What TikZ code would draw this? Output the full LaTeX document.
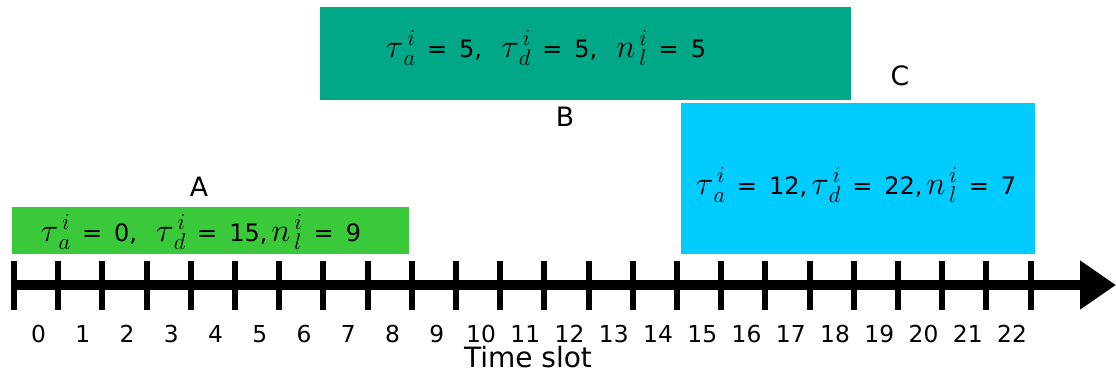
\documentclass[tikz,border=0pt]{standalone}
\usepackage{fontspec}
\setmainfont{DejaVu Sans}
\usetikzlibrary{arrows.meta}

\definecolor{jobA}{RGB}{57,201,58}
\definecolor{jobB}{RGB}{0,168,136}
\definecolor{jobC}{RGB}{0,204,255}

% job parameter with time slot index i
\newcommand{\jobvar}[2]{\scalebox{1.42}{$#1^{\,i}_{\,#2}$}}
\newcommand{\eq}{\hspace{0.45em}=\hspace{0.5em}}

\begin{document}
\begin{tikzpicture}[x=0.75pt,y=-0.75pt]
    \tikzset{job/.style = {shape=rectangle, draw=none, inner sep=0pt}}
    \tikzset{jobtext/.style = {font=\fontsize{18}{21}\selectfont, inner sep=0pt}}
    \tikzset{jobtag/.style = {font=\fontsize{20}{24}\selectfont}}
    \tikzset{slot/.style = {font=\fontsize{17.5}{20}\selectfont, anchor=base}}
    \tikzset{axis/.style = {draw=black, line width=7.5pt, -{Triangle[length=27pt, width=35pt]}}}

    \useasboundingbox (0,0) rectangle (1116,376);

    % jobs
    \node[job, fill=jobA, minimum width=297.75pt, minimum height=35.25pt] (boxA) at (210.5,230.5) {};
    \node[job, fill=jobB, minimum width=398.25pt, minimum height=69.75pt] (boxB) at (585.5,53.5) {};
    \node[job, fill=jobC, minimum width=265.5pt, minimum height=113.25pt] (boxC) at (858,178.5) {};

    \node[jobtext] (textA) at (201,232) {\jobvar{\tau}{a}\eq 0,\hspace{0.8em}\jobvar{\tau}{d}\eq 15,\,\jobvar{n}{l}\eq 9};
    \node[jobtext] (textB) at (546,48) {\jobvar{\tau}{a}\eq 5,\hspace{0.8em}\jobvar{\tau}{d}\eq 5,\hspace{0.8em}\jobvar{n}{l}\eq 5};
    \node[jobtext] (textC) at (856,185) {\jobvar{\tau}{a}\eq 12,\,\jobvar{\tau}{d}\eq 22,\,\jobvar{n}{l}\eq 7};

    \node[jobtag] (tagA) at (199,187) {A};
    \node[jobtag] (tagB) at (565,117) {B};
    \node[jobtag] (tagC) at (900,76) {C};

    % time axis
    \coordinate (start) at (11,285);
    \coordinate (end) at (1116,285);
    \draw[axis] (start) -- (end);
    \foreach \k in {0,...,23}
        \draw[line width=4.5pt] (13.9+44.2*\k,261) -- (13.9+44.2*\k,310);
    \foreach \k in {0,...,22}
        \node[slot] (slot\k) at (38.5+44.25*\k,342) {\k};
    \node[font=\fontsize{21}{25}\selectfont] (label) at (528,357) {Time slot};
\end{tikzpicture}
\end{document}
